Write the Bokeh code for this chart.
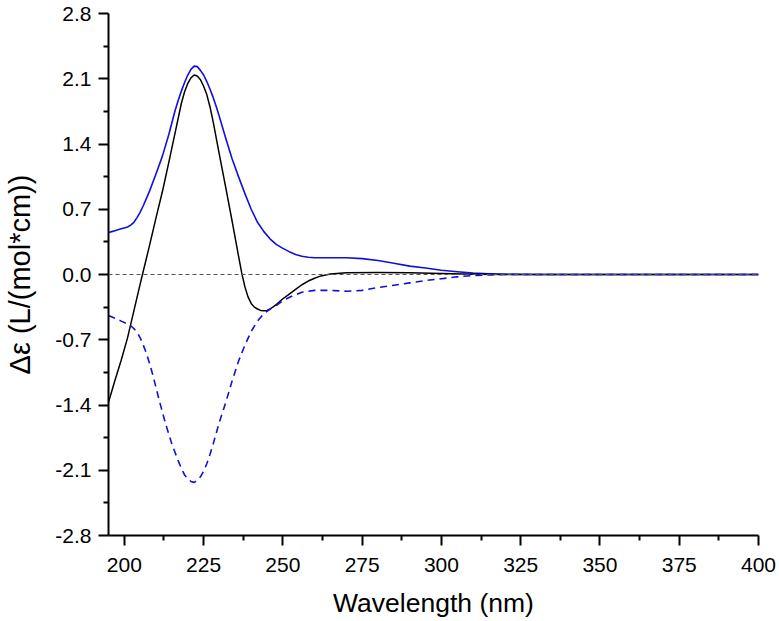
from bokeh.plotting import figure
from bokeh.models import Range1d, FixedTicker, NumeralTickFormatter, Span
from bokeh.embed import file_html
from bokeh.resources import INLINE

# Wavelength (nm) and delta-epsilon values
wl_blue = [195, 196, 197, 198, 199, 200, 201, 202, 203, 204, 205, 206, 207, 208, 210, 212, 214, 216,
           217, 218, 219, 220, 221, 222, 223, 224, 225, 226, 227, 228, 229, 230, 232, 234, 236, 238,
           240, 242, 244, 246, 248, 250, 252, 254, 256, 258, 260, 265, 270, 275, 280, 285, 290, 295,
           300, 305, 310, 315, 320, 330, 340, 400]
de_blue = [0.45, 0.46, 0.47, 0.48, 0.49, 0.50, 0.51, 0.53, 0.56, 0.61, 0.67, 0.74, 0.82, 0.90, 1.08,
           1.27, 1.50, 1.76, 1.87, 1.97, 2.06, 2.14, 2.20, 2.235, 2.23, 2.19, 2.14, 2.07, 1.99, 1.90,
           1.80, 1.69, 1.46, 1.24, 1.05, 0.87, 0.70, 0.56, 0.46, 0.38, 0.32, 0.28, 0.245, 0.215, 0.195,
           0.185, 0.18, 0.18, 0.18, 0.17, 0.15, 0.12, 0.09, 0.07, 0.045, 0.03, 0.015, 0.008, 0.003,
           0.0, 0.0, 0.0]

wl_dash = [195, 197, 199, 201, 202, 203, 204, 205, 206, 207, 208, 209, 211, 213, 215, 217, 218, 219,
           220, 221, 222, 223, 224, 225, 226, 227, 228, 230, 232, 234, 236, 238, 240, 242, 244, 246,
           248, 250, 253, 256, 260, 265, 270, 275, 280, 285, 290, 295, 300, 305, 310, 315, 320, 330, 400]
de_dash = [-0.44, -0.47, -0.50, -0.53, -0.55, -0.58, -0.62, -0.68, -0.76, -0.85, -0.96, -1.08, -1.35,
           -1.60, -1.82, -2.00, -2.08, -2.15, -2.19, -2.22, -2.23, -2.21, -2.17, -2.11, -2.03, -1.93,
           -1.82, -1.58, -1.37, -1.14, -0.93, -0.76, -0.61, -0.50, -0.42, -0.37, -0.33, -0.28, -0.23,
           -0.19, -0.17, -0.17, -0.18, -0.17, -0.14, -0.115, -0.09, -0.065, -0.045, -0.025, -0.01,
           -0.004, 0.0, 0.0, 0.0]

wl_black = [195, 197, 199, 201, 203, 205, 206, 208, 210, 212, 214, 216, 218, 219, 220, 221, 222, 223,
            224, 225, 226, 227, 228, 230, 232, 234, 236, 237, 238, 239, 240, 241, 242, 243, 244, 245,
            246, 248, 250, 252, 254, 256, 258, 260, 262, 265, 270, 280, 290, 300, 310, 320, 400]
de_black = [-1.37, -1.14, -0.92, -0.68, -0.39, -0.10, 0.04, 0.32, 0.61, 0.89, 1.20, 1.52, 1.84, 1.96,
            2.05, 2.11, 2.14, 2.13, 2.09, 2.02, 1.93, 1.80, 1.64, 1.28, 0.93, 0.57, 0.20, 0.02, -0.13,
            -0.24, -0.31, -0.35, -0.37, -0.385, -0.39, -0.385, -0.37, -0.32, -0.26, -0.21, -0.16,
            -0.11, -0.07, -0.04, -0.015, 0.005, 0.02, 0.022, 0.02, 0.012, 0.004, 0.0, 0.0]

x_ticks = [200, 225, 250, 275, 300, 325, 350, 375, 400]
x_minor = [212.5, 237.5, 262.5, 287.5, 312.5, 337.5, 362.5, 387.5]
y_ticks = [-2.8, -2.1, -1.4, -0.7, 0.0, 0.7, 1.4, 2.1, 2.8]
y_minor = [-2.45, -1.75, -1.05, -0.35, 0.35, 1.05, 1.75, 2.45]

FONT = "Liberation Sans"

p = figure(width=779, height=621, output_backend="svg", toolbar_location=None,
           x_range=Range1d(195, 400), y_range=Range1d(-2.8, 2.8),
           min_border_left=108, min_border_right=21, min_border_top=13, min_border_bottom=86)
p.outline_line_color = None
p.xgrid.visible = False
p.ygrid.visible = False
p.background_fill_color = "white"
p.border_fill_color = "white"

p.add_layout(Span(location=0, dimension="width", line_color="#555555",
                  line_dash="4 3", line_width=1))

p.line(wl_blue, de_blue, line_color="#1010d8", line_width=1.6, line_join="round")
p.line(wl_black, de_black, line_color="black", line_width=1.5, line_join="round")
p.line(wl_dash, de_dash, line_color="#1010d8", line_width=1.6, line_dash="7 5", line_join="round")

for ax in (p.xaxis[0], p.yaxis[0]):
    ax.axis_line_width = 2
    ax.axis_line_color = "black"
    ax.major_tick_line_width = 2
    ax.minor_tick_line_width = 2
    ax.major_tick_in = 0
    ax.major_tick_out = 10
    ax.minor_tick_in = 0
    ax.minor_tick_out = 5
    ax.major_label_text_font = FONT
    ax.major_label_text_font_size = "21px"
    ax.major_label_text_color = "black"
    ax.axis_label_text_font = FONT
    ax.axis_label_text_font_style = "normal"
    ax.axis_label_text_color = "black"

p.xaxis.axis_label_text_font_size = "26.5px"
p.yaxis.axis_label_text_font_size = "29px"
p.xaxis.ticker = FixedTicker(ticks=x_ticks, minor_ticks=x_minor)
p.yaxis.ticker = FixedTicker(ticks=y_ticks, minor_ticks=y_minor)
p.yaxis.formatter = NumeralTickFormatter(format="0.0")
p.xaxis.axis_label = "Wavelength (nm)"
p.yaxis.axis_label = "Δε (L/(mol*cm))"
p.xaxis.major_label_standoff = 12
p.yaxis.major_label_standoff = 7
p.xaxis.axis_label_standoff = 13
p.yaxis.axis_label_standoff = 16

open("out.html", "w").write(file_html(p, INLINE))
